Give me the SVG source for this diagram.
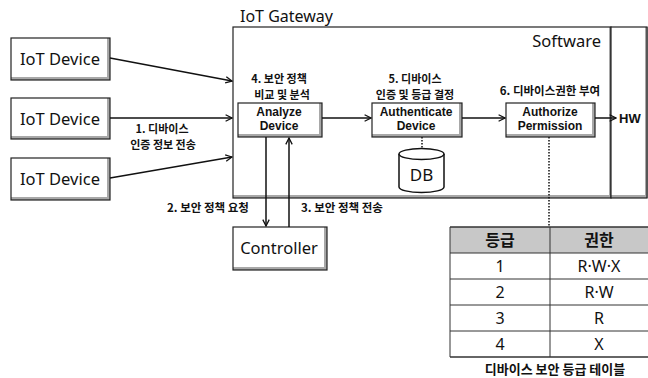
<svg xmlns="http://www.w3.org/2000/svg" width="648" height="378" viewBox="0 0 648 378">
<defs>
<style>
.sh{fill:#a8a8a8}
.bx{fill:#fff}
.ol{fill:none;stroke:#222;stroke-width:1.2}
.big{font-family:"Noto Sans","Noto Sans CJK KR",sans-serif;font-size:16px;fill:#111}
.lbl{font-family:"Noto Sans CJK KR","Noto Sans",sans-serif;font-size:11.5px;font-weight:bold;fill:#111}
.l2{font-size:11px}
.bxt{font-family:"Liberation Sans",Arial,sans-serif;font-size:12px;font-weight:bold;fill:#111}
.ln{fill:none;stroke:#111;stroke-width:1.5}
.dot{fill:none;stroke:#111;stroke-width:1.5;stroke-dasharray:1.5 1.5}
.tb{font-family:"Noto Sans","Noto Sans CJK KR",sans-serif;font-size:16px;fill:#111}
.th{font-family:"Noto Sans CJK KR",sans-serif;font-size:16px;font-weight:bold;fill:#111}
</style>
<marker id="ah" viewBox="0 0 10 10" refX="9" refY="5" markerWidth="8" markerHeight="8" orient="auto" markerUnits="userSpaceOnUse">
<path d="M1,1 L9,5 L1,9" fill="none" stroke="#111" stroke-width="1.6"/>
</marker>
</defs>
<rect width="648" height="378" fill="#fff"/>

<g id="gateway">
<text class="big" x="240" y="22">IoT Gateway</text>
<rect class="sh" x="233" y="27" width="378" height="171"/>
<rect class="bx" x="233" y="27" width="376" height="168"/>
<rect class="ol" x="233" y="27" width="378" height="171"/>
<rect class="sh" x="611" y="27" width="37" height="171"/>
<rect class="bx" x="611" y="27" width="34" height="168"/>
<rect class="ol" x="611" y="27" width="36" height="171"/>
<text class="big" x="601" y="47" text-anchor="end" style="font-size:16.5px">Software</text>
<text class="bxt" x="619" y="123" style="font-size:13px">HW</text>
</g>

<g id="iot1">
<rect class="sh" x="11" y="38" width="99" height="42"/>
<rect class="bx" x="11" y="38" width="96" height="39"/>
<rect class="ol" x="11" y="38" width="99" height="42"/>
<text class="big" x="60" y="65" text-anchor="middle" style="font-size:16.5px">IoT Device</text>
</g>
<g id="iot2">
<rect class="sh" x="11" y="98" width="99" height="41"/>
<rect class="bx" x="11" y="98" width="96" height="38"/>
<rect class="ol" x="11" y="98" width="99" height="41"/>
<text class="big" x="60" y="125" text-anchor="middle" style="font-size:16.5px">IoT Device</text>
</g>
<g id="iot3">
<rect class="sh" x="11" y="158" width="99" height="42"/>
<rect class="bx" x="11" y="158" width="96" height="39"/>
<rect class="ol" x="11" y="158" width="99" height="42"/>
<text class="big" x="60" y="185" text-anchor="middle" style="font-size:16.5px">IoT Device</text>
</g>

<g id="analyze">
<text class="lbl l2" x="279" y="83" text-anchor="middle">4. 보안 정책</text>
<text class="lbl l2" x="282" y="99" text-anchor="middle">비교 및 분석</text>
<rect class="sh" x="238" y="103" width="84" height="34"/>
<rect class="bx" x="238" y="103" width="81" height="31"/>
<rect class="ol" x="238" y="103" width="84" height="34"/>
<text class="bxt" x="279" y="116" text-anchor="middle">Analyze</text>
<text class="bxt" x="279" y="130" text-anchor="middle">Device</text>
</g>

<g id="authenticate">
<text class="lbl l2" x="415" y="83" text-anchor="middle">5. 디바이스</text>
<text class="lbl l2" x="415" y="99" text-anchor="middle">인증 및 등급 결정</text>
<rect class="sh" x="372" y="103" width="90" height="34"/>
<rect class="bx" x="372" y="103" width="87" height="31"/>
<rect class="ol" x="372" y="103" width="90" height="34"/>
<text class="bxt" x="416" y="116" text-anchor="middle">Authenticate</text>
<text class="bxt" x="416" y="130" text-anchor="middle">Device</text>
</g>

<g id="authorize">
<text class="lbl" x="550" y="95" text-anchor="middle">6. 디바이스권한 부여</text>
<rect class="sh" x="506" y="103" width="89" height="34"/>
<rect class="bx" x="506" y="103" width="86" height="31"/>
<rect class="ol" x="506" y="103" width="89" height="34"/>
<text class="bxt" x="550" y="116" text-anchor="middle">Authorize</text>
<text class="bxt" x="550" y="130" text-anchor="middle">Permission</text>
</g>

<g id="db">
<path d="M399,154 L399,187 A22.5,5.5 0 0 0 444,187 L444,154" fill="#fff" stroke="#111" stroke-width="1.5"/>
<ellipse cx="421.5" cy="154" rx="22.5" ry="5.5" fill="#fff" stroke="#111" stroke-width="1.5"/>
<text class="big" x="421.5" y="181" text-anchor="middle" style="font-size:17px">DB</text>
</g>

<g id="controller">
<rect class="sh" x="233" y="227" width="94" height="43"/>
<rect class="bx" x="233" y="227" width="91" height="40"/>
<rect class="ol" x="233" y="227" width="94" height="43"/>
<text class="big" x="279" y="254" text-anchor="middle" style="font-size:16.5px">Controller</text>
</g>

<g id="table">
<rect x="450" y="227" width="198" height="26" fill="#c8c8c8"/>
<g fill="none" stroke="#333" stroke-width="1">
<line x1="450" y1="227" x2="648" y2="227" stroke-width="1.5"/>
<line x1="450" y1="253" x2="648" y2="253"/>
<line x1="450" y1="279" x2="648" y2="279"/>
<line x1="450" y1="305" x2="648" y2="305"/>
<line x1="450" y1="331" x2="648" y2="331"/>
<line x1="450" y1="357" x2="648" y2="357" stroke-width="1.5"/>
<line x1="450" y1="227" x2="450" y2="357"/>
<line x1="550" y1="227" x2="550" y2="357"/>
</g>
<text class="th" x="500" y="246" text-anchor="middle">등급</text>
<text class="th" x="599" y="246" text-anchor="middle">권한</text>
<text class="tb" x="500" y="272" text-anchor="middle">1</text>
<text class="tb" x="599" y="272" text-anchor="middle">R·W·X</text>
<text class="tb" x="500" y="298" text-anchor="middle">2</text>
<text class="tb" x="599" y="298" text-anchor="middle">R·W</text>
<text class="tb" x="500" y="324" text-anchor="middle">3</text>
<text class="tb" x="599" y="324" text-anchor="middle">R</text>
<text class="tb" x="500" y="350" text-anchor="middle">4</text>
<text class="tb" x="599" y="350" text-anchor="middle">X</text>
<text class="lbl" x="555" y="374" text-anchor="middle" style="font-size:13px">디바이스 보안 등급 테이블</text>
</g>

<g id="connectors">
<line class="ln" x1="110" y1="58" x2="232" y2="81" marker-end="url(#ah)"/>
<line class="ln" x1="110" y1="118" x2="232" y2="118" marker-end="url(#ah)"/>
<line class="ln" x1="110" y1="178" x2="232" y2="157" marker-end="url(#ah)"/>
<text class="lbl l2" x="162" y="133" text-anchor="middle">1. 디바이스</text>
<text class="lbl l2" x="163" y="149" text-anchor="middle">인증 정보 전송</text>
<line class="ln" x1="322" y1="118" x2="371" y2="118" marker-end="url(#ah)"/>
<line class="ln" x1="462" y1="118" x2="505" y2="118" marker-end="url(#ah)"/>
<line class="ln" x1="595" y1="118" x2="616" y2="118" marker-end="url(#ah)"/>
<line class="ln" x1="266" y1="137" x2="266" y2="226" marker-end="url(#ah)"/>
<line class="ln" x1="289" y1="227" x2="289" y2="138" marker-end="url(#ah)"/>
<text class="lbl" x="167" y="212">2. 보안 정책 요청</text>
<text class="lbl" x="301" y="212">3. 보안 정책 전송</text>
<line class="dot" x1="422" y1="137" x2="422" y2="148"/>
<line class="dot" x1="549" y1="137" x2="549" y2="227"/>
</g>
</svg>
